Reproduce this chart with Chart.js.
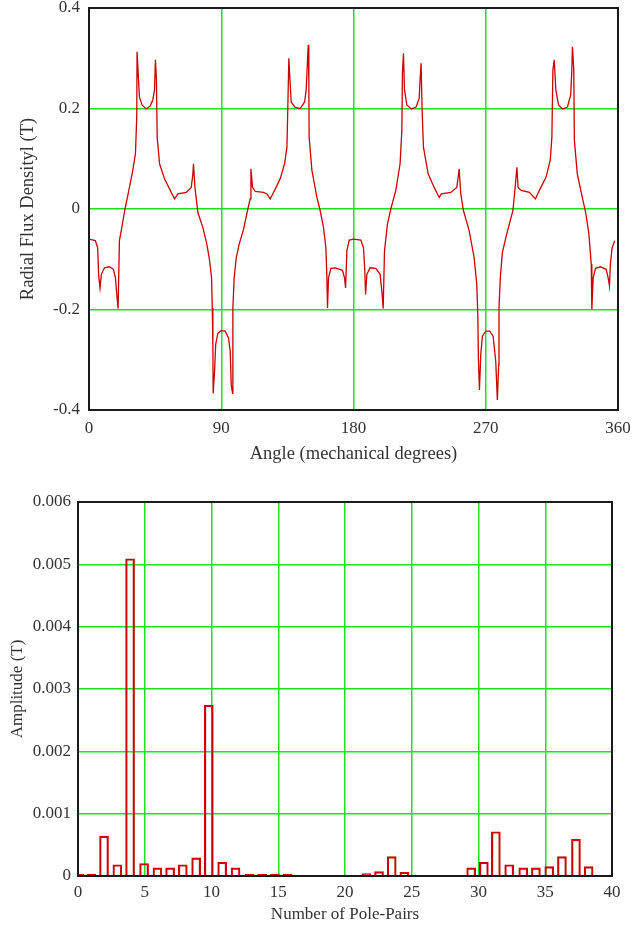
<!DOCTYPE html>
<html>
<head>
<meta charset="utf-8">
<script src="https://cdn.jsdelivr.net/npm/chart.js@4.4.1/dist/chart.umd.min.js"></script>
<style>
  body { margin: 0; background: #fff; overflow: hidden; }
  #wrap { position: relative; width: 636px; height: 928px; overflow: hidden; }
  canvas { position: absolute; left: 0; }
  #fluxChart { top: -12px; }
  #harmChart { top: 470px; }
</style>
</head>
<body>
<div id="wrap">
  <canvas id="fluxChart" width="640" height="482"></canvas>
  <canvas id="harmChart" width="636" height="458"></canvas>
</div>
<script>
// --- Dados: densidade de fluxo radial ---
const angleDeg = [
  0, 4.3, 5.9, 6.6, 7.5, 8.4, 10.5, 13.9, 16.6, 18, 19.1, 19.8, 20.7, 22.3, 24.5, 27.5, 29.8, 31.6, 32.5, 32.7,
  33.6, 34.3, 36.1, 38.9, 41.6, 43.4, 44.6, 45.2, 45.9, 46.4, 48, 51.4, 54.8, 58.2, 60.5, 66.1, 69.6, 70.7, 71.1, 72.1,
  74.1, 77.5, 80.2, 82.1, 83.4, 83.9, 84.3, 84.5, 85.5, 86.2, 87.7, 90,
  92.7, 95, 96.1, 96.8, 97.7, 97.9, 98.8, 100.2, 102.2, 105.2, 108.1, 109.7, 110.2, 111.3, 113.1, 118.8, 121.1, 123.3,
  126.3, 130.1, 133.1, 134.7, 135.3, 136, 136.7, 137.6, 140.3, 143.7, 146.7, 147.8, 148.5, 149.2, 149.6, 149.8, 151.7, 155.1,
  157.3, 159.6, 161.2, 161.9, 162.3, 163, 164.6, 167.5, 172.5, 173.9, 174.6, 175.5, 177.1, 180,
  185, 186.8, 187.7, 188.2, 189.1, 191.3, 195.2, 198.1, 199.5, 200.2, 201.1, 203.1, 205.4, 208.8, 211.7, 212.9, 213.3, 214,
  214.7, 216.3, 219.4, 222.6, 224.7, 225.3, 226, 226.7, 227.6, 230.8, 234.9, 238.3, 239.8, 246.2, 250.3, 251.2, 251.9, 253,
  254.8, 258.7, 262.1, 263.9, 264.6, 265, 265.7, 266.6, 267.7, 270,
  272.7, 275, 276.8, 277.9, 278.8, 279, 279.9, 281.3, 284, 288.5, 290, 291.2, 292, 294.1, 299.7, 303.8, 306.5, 311, 313.9,
  315, 315.7, 316.6, 317.7, 319.5, 322.2, 325.6, 327.8, 328.5, 329, 329.9, 330.3, 332.3, 335.7, 338, 340.2, 341.8, 342.2,
  343.1, 344.7, 348.1, 351.9, 353.3, 354.2, 354.8, 356, 357.8
];
const fluxT = [
  -0.06, -0.063, -0.077, -0.133, -0.157, -0.13, -0.117, -0.115, -0.12, -0.137, -0.177, -0.198, -0.063, -0.037, 0, 0.043, 0.077, 0.11, 0.183, 0.313,
  0.263, 0.223, 0.207, 0.199, 0.205, 0.217, 0.237, 0.297, 0.257, 0.143, 0.09, 0.06, 0.04, 0.02, 0.03, 0.033, 0.043, 0.07, 0.09, 0.043,
  -0.007, -0.037, -0.07, -0.103, -0.137, -0.197, -0.27, -0.367, -0.32, -0.27, -0.247, -0.242,
  -0.243, -0.257, -0.283, -0.35, -0.367, -0.197, -0.137, -0.097, -0.07, -0.04, 0, 0.02, 0.08, 0.043, 0.035, 0.033, 0.03, 0.02,
  0.037, 0.06, 0.09, 0.123, 0.203, 0.3, 0.26, 0.213, 0.202, 0.2, 0.213, 0.237, 0.283, 0.327, 0.257, 0.143, 0.077, 0.023,
  -0.003, -0.037, -0.077, -0.137, -0.197, -0.137, -0.118, -0.117, -0.122, -0.137, -0.157, -0.083, -0.062, -0.06,
  -0.062, -0.077, -0.123, -0.17, -0.13, -0.117, -0.118, -0.13, -0.17, -0.198, -0.083, -0.03, 0, 0.037, 0.09, 0.157, 0.27, 0.31,
  0.237, 0.207, 0.199, 0.203, 0.22, 0.257, 0.29, 0.197, 0.123, 0.07, 0.043, 0.023, 0.03, 0.033, 0.043, 0.063, 0.08, 0.03,
  -0.003, -0.043, -0.097, -0.15, -0.21, -0.297, -0.36, -0.29, -0.253, -0.243,
  -0.243, -0.253, -0.303, -0.38, -0.31, -0.197, -0.137, -0.087, -0.053, -0.003, 0.043, 0.083, 0.043, 0.037, 0.033, 0.02, 0.037, 0.063, 0.097,
  0.143, 0.277, 0.297, 0.237, 0.207, 0.199, 0.203, 0.227, 0.27, 0.323, 0.277, 0.137, 0.07, 0.023, -0.007, -0.05, -0.11, -0.2,
  -0.137, -0.118, -0.115, -0.12, -0.137, -0.153, -0.11, -0.077, -0.063
];
const angleTicks = [0, 90, 180, 270, 360];
const fluxTickLabels = ['-0.4', '-0.2', '0', '0.2', '0.4'];

// --- Dados: espectro harmônico ---
const polePairs = [
  0.1, 1.0, 1.95, 2.95, 3.9, 4.95, 5.95, 6.9, 7.85, 8.85, 9.8, 10.8, 11.8, 12.85, 13.8, 14.75, 15.7,
  21.6, 22.55, 23.5, 24.45,
  29.45, 30.4, 31.3, 32.3, 33.35, 34.3, 35.3, 36.25, 37.3, 38.25
];
const amplitudeT = [
  0.00003, 0.00003, 0.00064, 0.00018, 0.00509, 0.0002, 0.00013, 0.00013, 0.00018, 0.00029, 0.00274, 0.00022, 0.00013, 0.00003, 0.00003, 0.00003, 0.00003,
  0.00004, 0.00007, 0.00031, 0.00006,
  0.00013, 0.00022, 0.00071, 0.00018, 0.00013, 0.00013, 0.00015, 0.00031, 0.00059, 0.00015
];
const ampTickLabels = ['0', '0.001', '0.002', '0.003', '0.004', '0.005', '0.006'];

// --- Estilo comum ---
const RED = '#cc0000';
const GREEN = '#1ee01e';
const TXT = '#333333';
Chart.defaults.font.family = "'Liberation Serif', 'DejaVu Serif', serif";
Chart.defaults.font.size = 17;
Chart.defaults.color = TXT;

// moldura preta ao redor da área do gráfico
const framePlugin = {
  id: 'frame',
  afterDraw(chart) {
    const { ctx, chartArea: a } = chart;
    ctx.save();
    ctx.strokeStyle = '#1a1a1a';
    ctx.lineWidth = 2;
    ctx.strokeRect(a.left, a.top, a.right - a.left, a.bottom - a.top);
    ctx.restore();
  }
};

const gridOpts = { color: GREEN, lineWidth: 1.5, drawTicks: false };

// Gráfico 1: densidade de fluxo
new Chart(document.getElementById('fluxChart'), {
  type: 'line',
  data: {
    datasets: [{
      data: angleDeg.map((a, i) => ({ x: a, y: fluxT[i] })),
      borderColor: RED,
      borderWidth: 1.3,
      pointRadius: 0,
      tension: 0,
      fill: false
    }]
  },
  options: {
    responsive: false,
    animation: false,
    layout: { autoPadding: false, padding: { top: 20, right: 22, left: 0, bottom: 0 } },
    plugins: { legend: { display: false }, tooltip: { enabled: false } },
    scales: {
      x: {
        type: 'linear', min: 0, max: 360,
        afterBuildTicks: s => { s.ticks = angleTicks.map(v => ({ value: v })); },
        afterFit: s => { s.height = 60; },
        grid: gridOpts,
        border: { display: false },
        ticks: { padding: 8, maxRotation: 0, callback: v => String(v) },
        title: { display: true, text: 'Angle (mechanical degrees)', font: { size: 18.5 }, padding: { top: 0, bottom: 5 } }
      },
      y: {
        type: 'linear', min: -0.4, max: 0.4,
        afterBuildTicks: s => { s.ticks = fluxTickLabels.map(t => ({ value: parseFloat(t) })); },
        afterFit: s => { s.width = 89; },
        grid: gridOpts,
        border: { display: false },
        ticks: { padding: 9, callback: (v, i) => fluxTickLabels[i] },
        title: { display: true, text: 'Radial Flux Densityl (T)', font: { size: 18.5 }, padding: { top: 17, bottom: 0 } }
      }
    }
  },
  plugins: [framePlugin]
});

// Gráfico 2: amplitude por número de pares de polos
new Chart(document.getElementById('harmChart'), {
  type: 'bar',
  data: {
    datasets: [{
      data: polePairs.map((p, i) => ({ x: p, y: amplitudeT[i] })),
      backgroundColor: 'rgba(255,255,255,0)',
      borderColor: RED,
      borderWidth: 1.5,
      barThickness: 9
    }]
  },
  options: {
    responsive: false,
    animation: false,
    layout: { autoPadding: false, padding: { top: 32, right: 24, left: 0, bottom: 0 } },
    plugins: { legend: { display: false }, tooltip: { enabled: false } },
    scales: {
      x: {
        type: 'linear', min: 0, max: 40, offset: false,
        ticks: { stepSize: 5, padding: 6, maxRotation: 0 },
        afterFit: s => { s.height = 52; },
        grid: { ...gridOpts, offset: false },
        border: { display: false },
        title: { display: true, text: 'Number of Pole-Pairs', padding: { top: 0, bottom: 3 } }
      },
      y: {
        type: 'linear', min: 0, max: 0.006,
        afterBuildTicks: s => { s.ticks = ampTickLabels.map(t => ({ value: parseFloat(t) })); },
        afterFit: s => { s.width = 78; },
        grid: gridOpts,
        border: { display: false },
        ticks: { padding: 7, callback: (v, i) => ampTickLabels[i] },
        title: { display: true, text: 'Amplitude (T)', padding: { top: 7, bottom: 0 } }
      }
    }
  },
  plugins: [framePlugin]
});
</script>
</body>
</html>
